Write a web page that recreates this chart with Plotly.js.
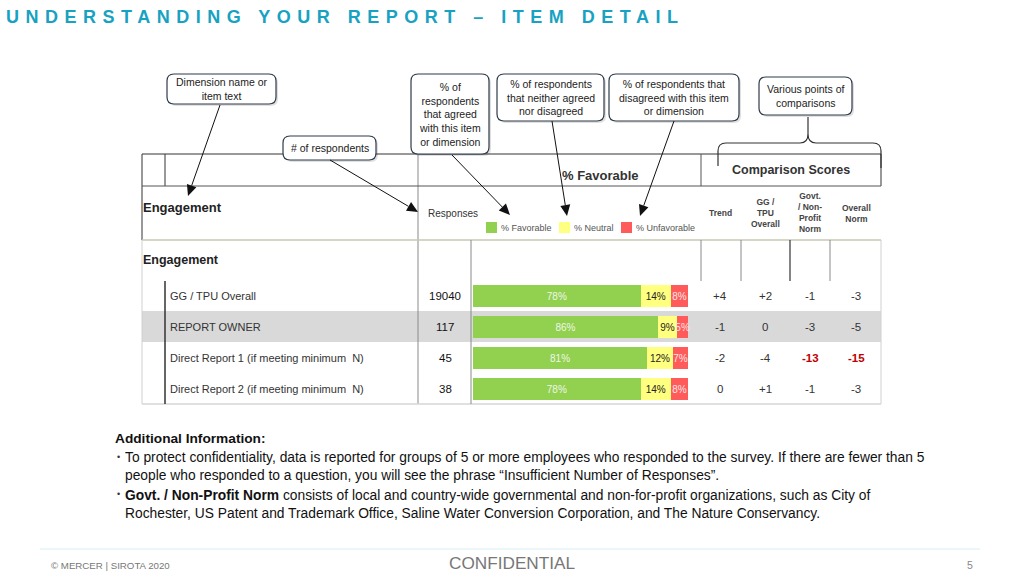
<!DOCTYPE html>
<html>
<head>
<meta charset="utf-8">
<script src="https://cdn.plot.ly/plotly-3.0.1.min.js"></script>
<style>html,body{margin:0;padding:0;background:#fff;}#chart{width:1024px;height:575px;}</style>
</head>
<body>
<div id="chart"></div>
<script>
// ---------- DATA ----------
const rows = ['GG / TPU Overall', 'REPORT OWNER', 'Direct Report 1 (if meeting minimum  N)', 'Direct Report 2 (if meeting minimum  N)'];
const responses = [19040, 117, 45, 38];
const favorable = [78, 86, 81, 78];
const neutral = [14, 9, 12, 14];
const unfavorable = [8, 5, 7, 8];
const trend = [4, -1, -2, 0];
const ggTpuOverall = [2, 0, -4, 1];
const govtNorm = [-1, -3, -13, -1];
const overallNorm = [-3, -5, -15, -3];
const compHeaders = ['Trend', 'GG /<br>TPU<br>Overall', 'Govt.<br>/ Non-<br>Profit<br>Norm', 'Overall<br>Norm'];
const legendLabels = ['% Favorable', '% Neutral', '% Unfavorable'];

// ---------- HELPERS ----------
const W = 1024, H = 575;
const FONT = 'Liberation Sans, Arial, sans-serif';
const X = px => px / W;
const Y = py => 1 - py / H;
const shapes = [];
const anns = [];

function line(x0, y0, x1, y1, color, w) {
  shapes.push({type: 'line', xref: 'paper', yref: 'paper', x0: X(x0), y0: Y(y0), x1: X(x1), y1: Y(y1), line: {color: color, width: w}});
}
function rect(x0, y0, x1, y1, fill) {
  shapes.push({type: 'rect', xref: 'paper', yref: 'paper', x0: X(x0), y0: Y(y0), x1: X(x1), y1: Y(y1), fillcolor: fill, line: {width: 0}, layer: 'below'});
}
function path(d, opts) {
  shapes.push(Object.assign({type: 'path', xref: 'paper', yref: 'paper', path: d}, opts));
}
function P(x, y) { return X(x) + ',' + Y(y); }
function rr(x0, y0, x1, y1, r) {
  return 'M' + P(x0 + r, y0) + ' L' + P(x1 - r, y0) + ' Q' + P(x1, y0) + ' ' + P(x1, y0 + r) +
    ' L' + P(x1, y1 - r) + ' Q' + P(x1, y1) + ' ' + P(x1 - r, y1) +
    ' L' + P(x0 + r, y1) + ' Q' + P(x0, y1) + ' ' + P(x0, y1 - r) +
    ' L' + P(x0, y0 + r) + ' Q' + P(x0, y0) + ' ' + P(x0 + r, y0) + ' Z';
}
function text(t, px, py, size, color, opts) {
  anns.push(Object.assign({xref: 'paper', yref: 'paper', x: X(px), y: Y(py), text: t, showarrow: false,
    font: {family: FONT, size: size, color: color}, xanchor: 'center', yanchor: 'middle', align: 'center'}, opts || {}));
}
function callout(t, x0, y0, x1, y1) {
  path(rr(x0 + 2, y0 + 2, x1 + 2, y1 + 2, 7), {fillcolor: 'rgba(0,0,0,0.12)', line: {width: 0}});
  path(rr(x0, y0, x1, y1, 7), {fillcolor: '#ffffff', line: {color: '#2e3a48', width: 1.2}});
  text(t, (x0 + x1) / 2, (y0 + y1) / 2, 10.5, '#222');
}
function arrow(x0, y0, x1, y1) {
  const dx = x1 - x0, dy = y1 - y0, L = Math.hypot(dx, dy);
  const ux = dx / L, uy = dy / L, h = 11, w = 5;
  const bx = x1 - ux * h, by = y1 - uy * h;
  line(x0, y0, bx, by, '#111', 1);
  path('M' + P(x1, y1) + ' L' + P(bx - uy * w, by + ux * w) + ' L' + P(bx + uy * w, by - ux * w) + ' Z',
    {fillcolor: '#111', line: {width: 0}});
}
const fmt = v => (v > 0 ? '+' + v : String(v));

// ---------- TABLE STRUCTURE ----------
rect(142, 311, 881, 342, '#d9d9d9');               // highlighted row band
line(142, 154, 881, 154, '#333', 1);
line(142, 154, 142, 240, '#333', 1);
line(165, 154, 165, 186, '#333', 1);
line(418, 154, 418, 404, '#8a8a8a', 1);
line(701, 154, 701, 186, '#555', 1);
line(881, 154, 881, 186, '#333', 1);
line(142, 186, 881, 186, '#555', 1);
line(142, 240, 881, 240, '#c9c8b2', 1.5);
line(142, 240, 142, 404, '#d0d0d0', 1);
line(881, 240, 881, 404, '#d0d0d0', 1);
line(142, 404, 881, 404, '#d6d6d6', 1.5);
line(471, 240, 471, 404, '#8a8a8a', 1);
line(165, 281, 165, 404, '#333', 1.5);
[701, 741, 830].forEach(x => line(x, 240, x, 281, '#8a8a8a', 1));
line(790, 240, 790, 281, '#333', 1.2);

// ---------- HEADER TEXT ----------
text('<b>Engagement</b>', 141, 208, 13, '#222', {xanchor: 'left'});
text('Responses', 426, 213, 10, '#333', {xanchor: 'left'});
text('<b>% Favorable</b>', 600, 175, 13, '#333');
text('<b>Comparison Scores</b>', 791, 170, 12.5, '#333');
const compX = [720, 765, 810, 856];
const compHeaderY = [213, 213, 212, 213];
compHeaders.forEach((h, i) => text('<b>' + h + '</b>', compX[i], compHeaderY[i], 8.5, '#444'));

// legend
const legColors = ['#92d050', '#ffff80', '#ff5b5b'];
const legX = [486, 559, 621];
legendLabels.forEach((l, i) => {
  shapes.push({type: 'rect', xref: 'paper', yref: 'paper', x0: X(legX[i]), x1: X(legX[i] + 11), y0: Y(222), y1: Y(233),
    fillcolor: legColors[i], line: {width: 0}});
  text(l, legX[i] + 13, 228, 9, '#555', {xanchor: 'left'});
});

text('<b>Engagement</b>', 141, 260, 12.5, '#222', {xanchor: 'left'});

// ---------- ROW TEXT (positioned on the bar category axis) ----------
const sevStyle = v => (v <= -10 ? {c: '#c00000', b: true} : {c: '#333', b: false});
rows.forEach((r, i) => {
  anns.push({xref: 'paper', yref: 'y', x: X(168), y: r, text: r, showarrow: false, xanchor: 'left', yanchor: 'middle',
    font: {family: FONT, size: 11, color: '#333'}});
  anns.push({xref: 'paper', yref: 'y', x: X(445), y: r, text: String(responses[i]), showarrow: false, xanchor: 'center', yanchor: 'middle',
    font: {family: FONT, size: 11.5, color: '#111'}});
  [trend, ggTpuOverall, govtNorm, overallNorm].forEach((arr, j) => {
    const s = sevStyle(arr[i]);
    anns.push({xref: 'paper', yref: 'y', x: X(compX[j]), y: r, text: s.b ? '<b>' + fmt(arr[i]) + '</b>' : fmt(arr[i]),
      showarrow: false, xanchor: 'center', yanchor: 'middle', font: {family: FONT, size: 11.5, color: s.c}});
  });
});

// ---------- CALLOUTS ----------
callout('Dimension name or<br>item text', 167, 74, 276, 104);
callout('% of<br>respondents<br>that agreed<br>with this item<br>or dimension', 411, 74, 489, 154);
callout('# of respondents', 283, 136, 376, 160);
callout('% of respondents<br>that neither agreed<br>nor disagreed', 497, 74, 604, 121);
callout('% of respondents that<br>disagreed with this item<br>or dimension', 609, 74, 739, 121);
callout('Various points of<br>comparisons', 759, 77, 852, 115);
arrow(220, 105, 188, 196);
arrow(452, 155, 510, 215);
arrow(330, 160, 418, 212);
arrow(552, 121, 567, 216);
arrow(674, 121, 640, 216);
// curly brace
path('M' + P(718, 166) + ' L' + P(718, 151) + ' Q' + P(718, 143) + ' ' + P(726, 143) + ' L' + P(800, 143) +
  ' Q' + P(808, 143) + ' ' + P(808, 134) + ' L' + P(808, 117) + ' M' + P(808, 134) + ' Q' + P(808, 143) + ' ' + P(816, 143) +
  ' L' + P(873, 143) + ' Q' + P(881, 143) + ' ' + P(881, 151) + ' L' + P(881, 168),
  {line: {color: '#333', width: 1.2}});

// ---------- TITLE / NOTES / FOOTER ----------
text('<b>UNDERSTANDING YOUR REPORT – ITEM DETAIL</b>', 4, 17, 18, '#17a2c2', {xanchor: 'left', align: 'left'});
text('<b>Additional Information:</b>', 113, 438, 13.7, '#111', {xanchor: 'left'});
text('•', 115, 457, 9, '#333', {xanchor: 'left'});
text('To protect confidentiality, data is reported for groups of 5 or more employees who responded to the survey. If there are fewer than 5<br>people who responded to a question, you will see the phrase “Insufficient Number of Responses”.',
  123, 466.5, 13.8, '#111', {xanchor: 'left', align: 'left'});
text('•', 115, 494, 9, '#333', {xanchor: 'left'});
text('<b>Govt. / Non-Profit Norm</b> consists of local and country-wide governmental and non-for-profit organizations, such as City of<br>Rochester, US Patent and Trademark Office, Saline Water Conversion Corporation, and The Nature Conservancy.',
  123, 504, 13.8, '#111', {xanchor: 'left', align: 'left'});
line(40, 549, 980, 549, '#d6edf3', 1);
text('© MERCER | SIROTA 2020', 49, 565, 9.7, '#777', {xanchor: 'left'});
text('CONFIDENTIAL', 512, 563, 17.2, '#777');
text('5', 970, 565, 10.5, '#888');

// ---------- BARS ----------
const barCommon = {type: 'bar', orientation: 'h', y: rows, width: 0.74, textposition: 'inside', insidetextanchor: 'middle',
  constraintext: 'none', textangle: 0, hoverinfo: 'skip', texttemplate: '%{x}%', cliponaxis: false, marker: {line: {width: 0}}};
const traces = [
  Object.assign({}, barCommon, {name: legendLabels[0], x: favorable, marker: {color: '#92d050'}, textfont: {family: FONT, size: 10, color: '#eef7e6'}}),
  Object.assign({}, barCommon, {name: legendLabels[1], x: neutral, marker: {color: '#ffff80'}, textfont: {family: FONT, size: 10, color: '#222'}}),
  Object.assign({}, barCommon, {name: legendLabels[2], x: unfavorable, marker: {color: '#ff5b5b'}, textfont: {family: FONT, size: 10, color: '#fde4e4'}})
];

const layout = {
  width: W, height: H, margin: {l: 0, r: 0, t: 0, b: 0},
  paper_bgcolor: '#ffffff', plot_bgcolor: 'rgba(0,0,0,0)',
  barmode: 'stack', bargap: 0.26, showlegend: false,
  uniformtext: {mode: 'show', minsize: 10},
  xaxis: {domain: [X(473), X(688)], range: [0, 100], visible: false, fixedrange: true},
  yaxis: {domain: [Y(404.5), Y(280.5)], type: 'category', categoryarray: rows, range: [3.5, -0.5], visible: false, fixedrange: true},
  shapes: shapes, annotations: anns, font: {family: FONT}
};

Plotly.newPlot('chart', traces, layout, {staticPlot: true, displayModeBar: false}).then(() => {
  document.querySelectorAll('.annotation-text').forEach(el => {
    if (el.textContent.indexOf('UNDERSTANDING') === 0) el.style.letterSpacing = '6.5px';
  });
});
</script>
</body>
</html>
